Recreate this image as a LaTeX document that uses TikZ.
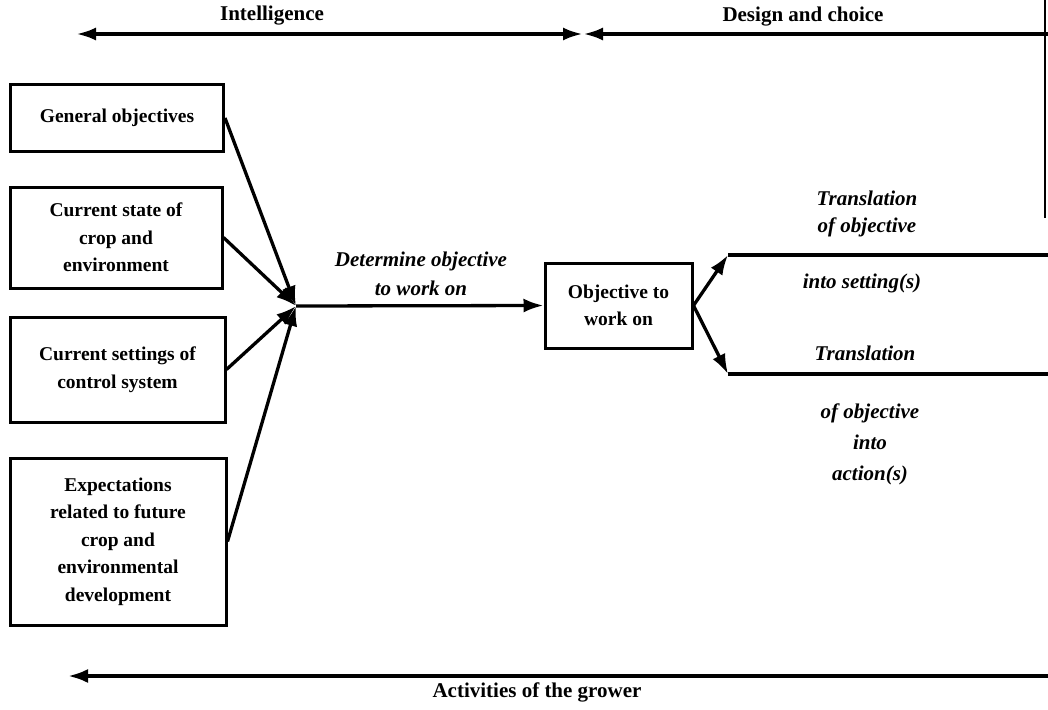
\documentclass[tikz,border=0pt]{standalone}
\usepackage{fontspec}
\setmainfont{Liberation Serif}
\usetikzlibrary{arrows.meta}

\begin{document}
\begin{tikzpicture}[x=1pt,y=-1pt,
  box/.style={draw,line width=3pt,align=center,inner sep=2pt,
    font=\fontsize{19.5}{27.5}\selectfont\bfseries},
  lbl/.style={align=center,font=\fontsize{21}{29}\selectfont\bfseries\itshape},
  hdr/.style={font=\fontsize{21}{24}\selectfont\bfseries},
  conn/.style={line width=3.3pt},
  tip/.style={-{Latex[length=20pt,width=14pt]}},
  ptr/.style={line width=3.3pt,tip}]
\useasboundingbox (0,0) rectangle (1048,709);

% phase bar across the top
\coordinate (tl) at (76,34);
\coordinate (tm) at (583,34);
\coordinate (tr) at (1048,34);
\draw[line width=3.8pt,{Latex[length=20pt,width=13pt]}-{Latex[length=20pt,width=13pt]}] (tm) -- (tl);
\draw[line width=3.8pt,{Latex[length=20pt,width=13pt]}-] (tm) -- (tr);
\node[hdr] (intel) at (272,16) {Intelligence};
\node[hdr] (design) at (803,17) {Design and choice};
\coordinate (vt) at (1045,0);
\coordinate (vb) at (1045,218);
\draw[line width=1.2pt] (vt) -- (vb);

% inputs
\node[box,minimum width=213pt,minimum height=67pt] (b1) at (117,118) {General objectives};
\node[box,minimum width=212pt,minimum height=101pt] (b2) at (116,237.5) {Current state of\\crop and\\environment};
\node[box,minimum width=215pt,minimum height=105pt] (b3) at (117.5,369.5) {Current settings of\\control system};
\node[box,minimum width=216pt,minimum height=167pt] (b4) at (118,541.5) {Expectations\\related to future\\crop and\\environmental\\development};

\coordinate (c) at (296,306);
\draw[ptr] (b1.east) -- (c);
\draw[ptr] (b2.east) -- (c);
\draw[ptr] (b3.east) -- (c);
\draw[ptr] (b4.east) -- (c);

% objective
\node[box,minimum width=147pt,minimum height=85pt] (obj) at (618.5,305.5) {Objective to\\work on};
\draw[ptr] (c) -- (obj.west);
\node[lbl] (det) at (421,274) {Determine objective\\to work on};

% translations
\coordinate (tu) at (728,255);
\coordinate (tue) at (1048,255);
\coordinate (td) at (728,374);
\coordinate (tde) at (1048,374);
\draw[ptr] (obj.east) -- (tu);
\draw[ptr] (obj.east) -- (td);
\draw[conn] (tu) -- (tue);
\draw[conn] (td) -- (tde);
\node[lbl,font=\fontsize{21}{27}\selectfont\bfseries\itshape] (t1a) at (867,214) {Translation\\of objective};
\node[lbl] (t1b) at (862,283) {into setting(s)};
\node[lbl] (t2a) at (865,353) {Translation};
\node[lbl,font=\fontsize{21}{31}\selectfont\bfseries\itshape] (t2b) at (870,444) {of objective\\into\\action(s)};

% activities bar
\coordinate (al) at (68,676);
\coordinate (ar) at (1048,676);
\draw[line width=3.6pt,tip] (ar) -- (al);
\node[hdr] (act) at (537,692) {Activities of the grower};
\end{tikzpicture}
\end{document}
